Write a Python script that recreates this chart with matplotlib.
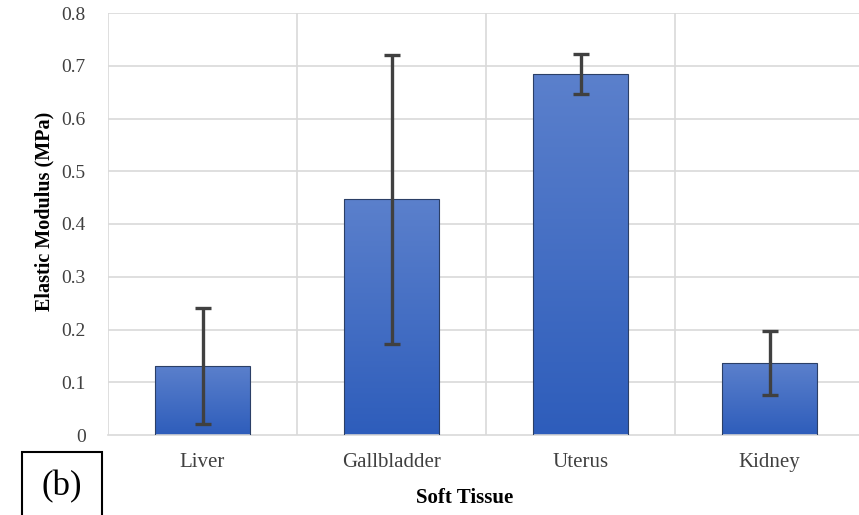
import numpy as np
import matplotlib
matplotlib.use("Agg")
import matplotlib.pyplot as plt
from matplotlib.colors import LinearSegmentedColormap
from matplotlib.patches import Rectangle

tissues = ["Liver", "Gallbladder", "Uterus", "Kidney"]
modulus = [0.131, 0.447, 0.684, 0.136]
modulus_sd = [0.110, 0.274, 0.038, 0.061]
y_ticks = [0, 0.1, 0.2, 0.3, 0.4, 0.5, 0.6, 0.7, 0.8]

plt.rcParams["font.family"] = ["Liberation Serif", "DejaVu Serif"]

fig = plt.figure(figsize=(8.59, 5.15), dpi=100)
ax = fig.add_axes([108 / 859, 1 - 435 / 515, 756 / 859, 422 / 515])

x = np.arange(len(tissues))
bars = ax.bar(x, modulus, width=0.5, color="none", edgecolor="#2b3f66",
              linewidth=0.8, zorder=3)

# vertical gradient fill for each bar, lighter at the top
grad_cmap = LinearSegmentedColormap.from_list("blue_grad", ["#2e5dbb", "#5b80cc"])
grad = np.linspace(0, 1, 256).reshape(-1, 1)
for b in bars:
    x0, y0 = b.get_x(), b.get_y()
    w, h = b.get_width(), b.get_height()
    im = ax.imshow(grad, cmap=grad_cmap, aspect="auto", origin="lower",
                   extent=[x0, x0 + w, y0, y0 + h], zorder=2.5,
                   interpolation="bicubic")
    clip = Rectangle((x0, y0), w, h, transform=ax.transData)
    im.set_clip_path(clip)

ax.errorbar(x, modulus, yerr=modulus_sd, fmt="none", ecolor="#404040",
            elinewidth=2.4, capsize=5.5, capthick=2.4, zorder=4)

ax.set_xlim(-0.5, len(tissues) - 0.5)
ax.set_ylim(0, 0.8)
ax.set_yticks(y_ticks)
ax.set_yticklabels(["0" if v == 0 else f"{v:.1f}" for v in y_ticks])
ax.set_xticks(x)
ax.set_xticklabels(tissues)

# horizontal and category-boundary gridlines
ax.set_axisbelow(True)
for v in y_ticks[1:]:
    ax.axhline(v, color="#d9d9d9", linewidth=1.2, zorder=0)
for xb in np.arange(-0.5, len(tissues) + 0.5, 1.0):
    ax.axvline(xb, color="#d9d9d9", linewidth=1.2, zorder=0)

for s in ["top", "right", "left"]:
    ax.spines[s].set_visible(False)
ax.spines["bottom"].set_color("#d9d9d9")
ax.spines["bottom"].set_linewidth(1.2)

ax.tick_params(axis="both", length=0, colors="#404040")
ax.tick_params(axis="y", pad=16, labelsize=14)
ax.tick_params(axis="x", pad=13, labelsize=15)

fig.text(44 / 859, 1 - 211 / 515, "Elastic Modulus (MPa)", rotation=90,
         ha="center", va="center", fontsize=14.5, fontweight="bold")
fig.text(465 / 859, 1 - 498 / 515, "Soft Tissue", ha="center", va="center",
         fontsize=15, fontweight="bold")

# panel label box
fig.patches.append(Rectangle((22 / 859, -0.02), 80 / 859, (515 - 452) / 515 + 0.02,
                             transform=fig.transFigure, facecolor="white",
                             edgecolor="black", linewidth=1.5))
fig.text(62 / 859, 1 - 487 / 515, "(b)", ha="center", va="center", fontsize=25)

fig.savefig("out.png", dpi=100)
